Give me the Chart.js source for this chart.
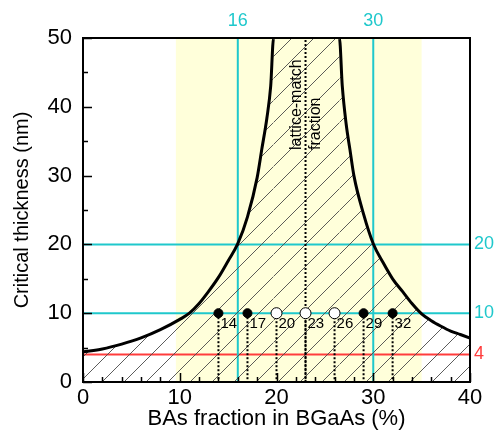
<!DOCTYPE html>
<html>
<head>
<meta charset="utf-8">
<script src="https://cdn.jsdelivr.net/npm/chart.js@4/dist/chart.umd.min.js"></script>
<style>
  html, body { margin: 0; padding: 0; background: #fff; }
  #wrap { width: 495px; height: 432px; }
</style>
</head>
<body>
<div id="wrap"><canvas id="chart" width="495" height="432"></canvas></div>
<script>
// critical thickness (nm) against BAs fraction (%), left and right branches
const curveX = [0, 2, 4, 6, 8, 10, 11, 12, 13, 14, 15, 16, 17, 18, 18.5, 19, 19.4, 19.7,
                26.5, 26.8, 27.2, 27.6, 28, 29, 30, 31, 32, 33, 34, 35, 36, 37, 38, 39, 40];
const curveY = [4.4, 4.8, 5.5, 6.4, 7.6, 9.1, 10.0, 11.4, 13.2, 15.2, 17.6, 20.1, 24.0, 29.7, 34.0, 38.3, 43.0, 50,
                50, 43.0, 37.5, 33.7, 30.0, 24.4, 20.1, 17.4, 15.0, 13.2, 11.4, 9.9, 8.9, 8.1, 7.4, 6.9, 6.4];

// grown samples
const sampleX = [14, 17, 20, 23, 26, 29, 32];
const sampleY = 10;
const sampleOpen = [false, false, true, true, true, false, false];

// reference lines
const latticeX = 23;
const cyanX = [16, 30];
const cyanY = [20, 10];
const redY = [4];
const bandX = [9.6, 35];

const xTicks = [0, 10, 20, 30, 40];
const yTicks = [0, 10, 20, 30, 40, 50];

const CYAN = '#1FC8CC';
const RED = '#FF3C3C';
const FONT = '"Liberation Sans", Arial, sans-serif';

function makeHatch() {
  const s = 22;
  const c = document.createElement('canvas');
  c.width = s; c.height = s;
  const g = c.getContext('2d');
  g.strokeStyle = '#4a4a4a';
  g.lineWidth = 0.9;
  g.beginPath();
  g.moveTo(-2, s + 2); g.lineTo(s + 2, -2);
  g.moveTo(-2, 2); g.lineTo(2, -2);
  g.moveTo(s - 2, s + 2); g.lineTo(s + 2, s - 2);
  g.stroke();
  return g.createPattern(c, 'repeat');
}

const seg = (pts, color, width, dash, order) => ({
  data: pts, showLine: true, borderColor: color, borderWidth: width,
  borderDash: dash || [], pointRadius: 0, fill: false, order: order
});

const datasets = [];

// sample markers
datasets.push({
  data: sampleX.map(x => ({ x: x, y: sampleY })),
  showLine: false,
  pointRadius: sampleOpen.map(o => o ? 5.5 : 4.5),
  pointBackgroundColor: sampleOpen.map(o => o ? '#fff' : '#000'),
  pointBorderColor: '#000',
  pointBorderWidth: 1,
  order: 0
});

// dotted drops from each sample to the axis
sampleX.forEach(x => datasets.push(seg([{ x: x, y: sampleY }, { x: x, y: 0 }], '#000', 2, [2, 2], 1)));
datasets.push(seg([{ x: latticeX, y: 0 }, { x: latticeX, y: 50 }], '#000', 2, [2, 2], 1));

// critical thickness curve with hatched area below
datasets.push({
  data: curveX.map((x, i) => ({ x: x, y: curveY[i] })),
  showLine: true,
  borderColor: '#000',
  borderWidth: 3,
  pointRadius: 0,
  cubicInterpolationMode: 'monotone',
  fill: 'origin',
  backgroundColor: makeHatch(),
  segment: {
    borderColor: c => (c.p0.parsed.y >= 50 && c.p1.parsed.y >= 50) ? 'rgba(0,0,0,0)' : '#000'
  },
  order: 2
});

cyanX.forEach(x => datasets.push(seg([{ x: x, y: 0 }, { x: x, y: 50 }], CYAN, 2, null, 3)));
cyanY.forEach(y => datasets.push(seg([{ x: 0, y: y }, { x: 40, y: y }], CYAN, 2, null, 3)));
redY.forEach(y => datasets.push(seg([{ x: 0, y: y }, { x: 40, y: y }], RED, 2, null, 3)));

const decor = {
  id: 'decor',
  beforeDatasetsDraw(chart) {
    const { ctx, chartArea: a, scales: { x } } = chart;
    const x0 = x.getPixelForValue(bandX[0]);
    const x1 = x.getPixelForValue(bandX[1]);
    ctx.save();
    ctx.fillStyle = '#FFFFDA';
    ctx.fillRect(x0, a.top, x1 - x0, a.bottom - a.top);
    ctx.restore();
  },
  afterDatasetsDraw(chart) {
    const { ctx, chartArea: a, scales: { x, y } } = chart;
    ctx.save();

    // frame and inward ticks
    ctx.strokeStyle = '#000';
    ctx.lineWidth = 2;
    ctx.strokeRect(a.left, a.top, a.right - a.left, a.bottom - a.top);
    ctx.lineWidth = 1.5;
    ctx.beginPath();
    for (let v = 0; v <= 40; v += 2) {
      const px = Math.round(x.getPixelForValue(v)) + 0.5;
      const len = v % 10 === 0 ? 9 : 5;
      ctx.moveTo(px, a.bottom); ctx.lineTo(px, a.bottom - len);
    }
    for (let v = 0; v <= 50; v += 5) {
      const py = Math.round(y.getPixelForValue(v)) + 0.5;
      const len = v % 10 === 0 ? 9 : 5;
      ctx.moveTo(a.left, py); ctx.lineTo(a.left + len, py);
    }
    ctx.stroke();

    // sample labels
    ctx.fillStyle = '#000';
    ctx.font = '15px ' + FONT;
    ctx.textAlign = 'left';
    ctx.textBaseline = 'middle';
    sampleX.forEach(v => {
      ctx.fillText(String(v), x.getPixelForValue(v) + 2, y.getPixelForValue(sampleY) + 11);
    });

    // reference line values
    ctx.font = '18px ' + FONT;
    ctx.fillStyle = CYAN;
    ctx.textAlign = 'center';
    cyanX.forEach(v => ctx.fillText(String(v), x.getPixelForValue(v), a.top - 17));
    ctx.textAlign = 'left';
    cyanY.forEach(v => ctx.fillText(String(v), a.right + 4, y.getPixelForValue(v)));
    ctx.fillStyle = RED;
    redY.forEach(v => ctx.fillText(String(v), a.right + 4, y.getPixelForValue(v)));

    // lattice-match caption
    ctx.fillStyle = '#000';
    ctx.font = '16px ' + FONT;
    ctx.translate(x.getPixelForValue(latticeX), y.getPixelForValue(50) + 112);
    ctx.rotate(-Math.PI / 2);
    ctx.textAlign = 'left';
    ctx.fillText('lattice-match', 0, -8.5);
    ctx.fillText('fraction', 0, 10.5);
    ctx.restore();
  }
};

new Chart(document.getElementById('chart'), {
  type: 'scatter',
  data: { datasets: datasets },
  options: {
    responsive: false,
    animation: false,
    events: [],
    layout: { padding: { top: 38, right: 25, left: 0, bottom: 0 } },
    plugins: { legend: { display: false }, tooltip: { enabled: false } },
    scales: {
      x: {
        type: 'linear', min: 0, max: 40,
        grid: { display: false, drawTicks: false },
        border: { display: false },
        afterBuildTicks: s => { s.ticks = xTicks.map(v => ({ value: v })); },
        ticks: { color: '#000', padding: 3, font: { family: FONT, size: 22 } },
        title: { display: true, text: 'BAs fraction in BGaAs (%)', color: '#000',
                 padding: { top: 0, bottom: 0 }, font: { family: FONT, size: 22 } },
        afterFit: s => { s.height = 50; s.paddingLeft = 0; s.paddingRight = 0; }
      },
      y: {
        type: 'linear', min: 0, max: 50,
        grid: { display: false, drawTicks: false },
        border: { display: false },
        afterBuildTicks: s => { s.ticks = yTicks.map(v => ({ value: v })); },
        ticks: { color: '#000', padding: 11, font: { family: FONT, size: 22 } },
        title: { display: true, text: 'Critical thickness (nm)', color: '#000',
                 padding: { top: 10, bottom: 0 }, font: { family: FONT, size: 20 } },
        afterFit: s => { s.width = 83; s.paddingTop = 0; s.paddingBottom = 0; }
      }
    }
  },
  plugins: [decor]
});
</script>
</body>
</html>
